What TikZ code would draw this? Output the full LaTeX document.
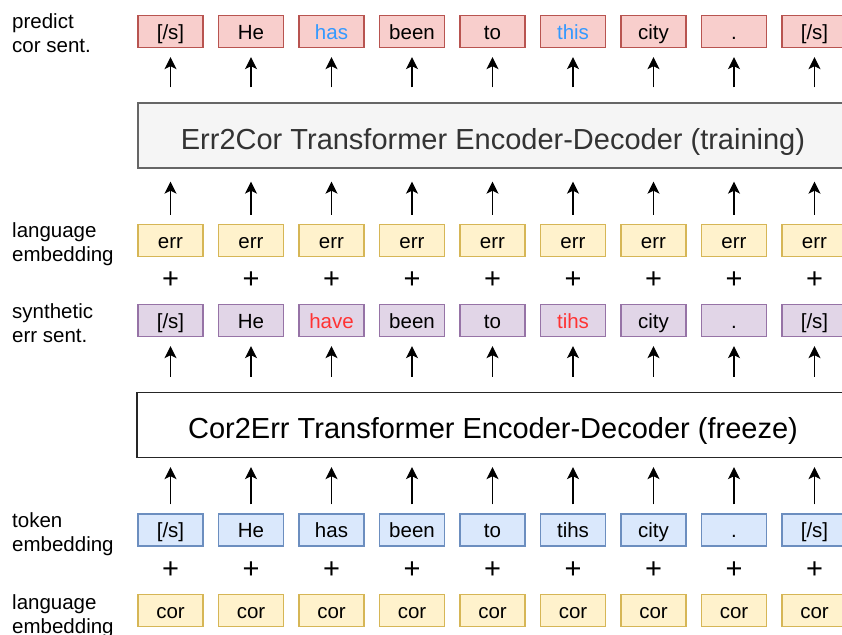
\documentclass[tikz,border=0pt]{standalone}
\usepackage{fontspec}
\setmainfont{Liberation Sans}
\usetikzlibrary{arrows.meta}
\definecolor{redF}{HTML}{F8CECC}\definecolor{redD}{HTML}{B85450}
\definecolor{yelF}{HTML}{FFF2CC}\definecolor{yelD}{HTML}{D6B656}
\definecolor{purF}{HTML}{E1D5E7}\definecolor{purD}{HTML}{9673A6}
\definecolor{bluF}{HTML}{DAE8FC}\definecolor{bluD}{HTML}{6C8EBF}
\definecolor{gryF}{HTML}{F5F5F5}\definecolor{gryD}{HTML}{666666}
\definecolor{txtBlue}{HTML}{3399FF}\definecolor{txtRed}{HTML}{FF3333}
\tikzset{
  tok/.style={draw, line width=1.3pt, minimum width=65pt, minimum height=32pt, inner sep=0pt,
     text height=17pt, text depth=1.5pt,
     font=\fontsize{20.5}{24}\selectfont},
  predbox/.style={tok, fill=redF, draw=redD},
  langbox/.style={tok, fill=yelF, draw=yelD},
  synbox/.style={tok, fill=purF, draw=purD},
  tokbox/.style={tok, fill=bluF, draw=bluD},
  bigbox/.style={draw, line width=1.3pt, minimum height=65pt, inner sep=0pt, text height=27pt, text depth=0pt,
     font=\fontsize{29}{33}\selectfont},
  rowlabel/.style={anchor=north west, align=left, inner sep=0pt, font=\fontsize{20.5}{24}\selectfont},
  plussign/.style={font=\fontsize{29}{29}\selectfont, inner sep=0pt},
  arr/.style={-{Stealth[length=12pt,width=12pt,inset=3pt]}, line width=1.4pt},
}
\begin{document}
\begin{tikzpicture}[x=1pt,y=-1pt]
\useasboundingbox (0,0) rectangle (842,634);
\clip (0,0) rectangle (842,634);
% row labels
\node[rowlabel] (l1) at (12,13) {predict\\cor sent.};
\node[rowlabel] (l2) at (12,222) {language\\embedding};
\node[rowlabel] (l3) at (12,303) {synthetic\\err sent.};
\node[rowlabel] (l4) at (12,512) {token\\embedding};
\node[rowlabel] (l5) at (12,594) {language\\embedding};
% big boxes
\node[bigbox, fill=gryF, draw=gryD, text=black!80, minimum width=710pt] (err2cor) at (493,135.5) {Err2Cor Transformer Encoder-Decoder (training)};
\node[bigbox, fill=white, draw=black!85, minimum width=712pt] (cor2err) at (493,425) {Cor2Err Transformer Encoder-Decoder (freeze)};
% token rows
\foreach \i/\p/\s/\t in {
  0/{[/s]}/{[/s]}/{[/s]},
  1/He/He/He,
  2/{\textcolor{txtBlue}{has}}/{\textcolor{txtRed}{have}}/has,
  3/been/been/been,
  4/to/to/to,
  5/{\textcolor{txtBlue}{this}}/{\textcolor{txtRed}{tihs}}/tihs,
  6/city/city/city,
  7/{.}/{.}/{.},
  8/{[/s]}/{[/s]}/{[/s]}} {
  \pgfmathsetmacro{\cx}{170.5+80.5*\i}
  \node[predbox] (p\i) at (\cx,31.5) {\p};
  \node[langbox] (e\i) at (\cx,240.5) {err};
  \node[plussign] (pa\i) at (\cx,280) {+};
  \node[synbox] (s\i) at (\cx,320.5) {\s};
  \node[tokbox] (t\i) at (\cx,530) {\t};
  \node[plussign] (pb\i) at (\cx,570) {+};
  \node[langbox] (c\i) at (\cx,610.5) {cor};
  \draw[arr, shorten <=15pt, shorten >=9pt] (p\i.south |- err2cor.north) -- (p\i.south);
  \draw[arr, shorten <=9pt, shorten >=13pt] (e\i.north) -- (e\i.north |- err2cor.south);
  \draw[arr, shorten <=15pt, shorten >=9pt] (s\i.south |- cor2err.north) -- (s\i.south);
  \draw[arr, shorten <=9pt, shorten >=9pt] (t\i.north) -- (t\i.north |- cor2err.south);
}
\end{tikzpicture}
\end{document}
